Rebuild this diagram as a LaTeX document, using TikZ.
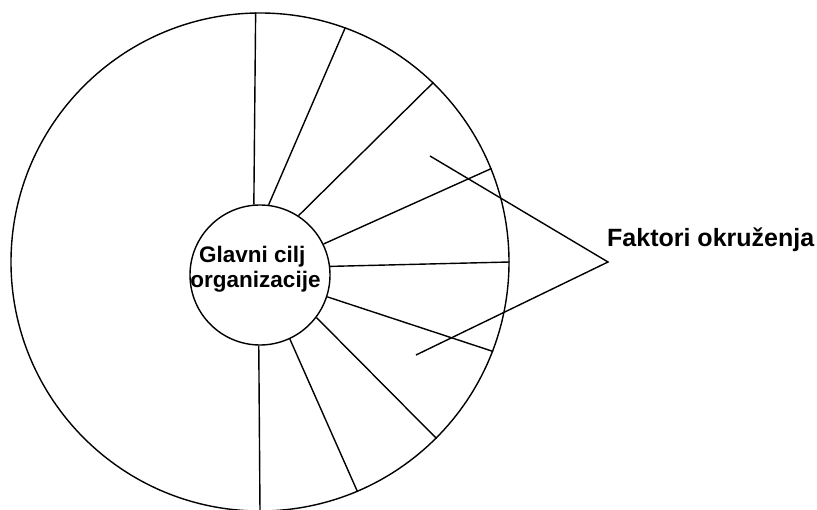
\documentclass[tikz,border=0pt]{standalone}
\usepackage{fontspec}
\setmainfont{Liberation Sans}
\begin{document}
\begin{tikzpicture}[x=1pt,y=-1pt,
  ln/.style={line width=1.4pt,black},
  ring/.style={circle,draw,line width=1.4pt,inner sep=0pt},
  lbl/.style={font=\fontsize{22.5}{25}\selectfont\bfseries,inner sep=0pt,align=center}]
\useasboundingbox (0,0) rectangle (817,510);
% outer and inner circles
\node[ring,minimum size=498pt] (outer) at (260,262) {};
\node[ring,minimum size=140pt,fill=white] (inner) at (260,275) {};
% spokes
\draw[ln] (inner.95.9) -- (outer.91.6);
\draw[ln] (inner.83.5) -- (outer.70);
\draw[ln] (inner.57.7) -- (outer.46.5);
\draw[ln] (inner.26.9) -- (outer.22.3);
\draw[ln] (inner.7.5) -- (outer.-0.9);
\draw[ln] (inner.-18.2) -- (outer.-21.2);
\draw[ln] (inner.-37) -- (outer.-45);
\draw[ln] (inner.-65.2) -- (outer.-67.2);
\draw[ln] (inner.-91.6) -- (outer.-90.5);
% center text
\node[lbl] (goal) at (255.5,269) {Glavni cilj\hspace*{0.28em}\\organizacije};
% factors label and pointers
\node[font=\fontsize{25}{29}\selectfont\bfseries,inner sep=0pt,anchor=base west] (fact) at (607,247) {Faktori okruženja};
\coordinate (apex) at (608,262);
\coordinate (p1) at (430,156);
\coordinate (p2) at (416,355);
\draw[ln] (p1) -- (apex) -- (p2);
\end{tikzpicture}
\end{document}
